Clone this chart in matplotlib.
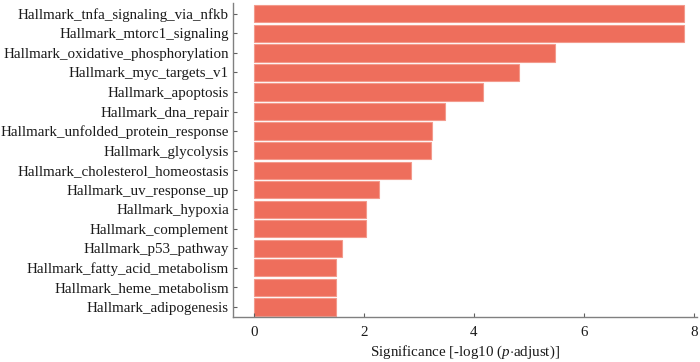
import matplotlib
matplotlib.use("Agg")
import matplotlib.pyplot as plt

categories = [
    "Hallmark_tnfa_signaling_via_nfkb",
    "Hallmark_mtorc1_signaling",
    "Hallmark_oxidative_phosphorylation",
    "Hallmark_myc_targets_v1",
    "Hallmark_apoptosis",
    "Hallmark_dna_repair",
    "Hallmark_unfolded_protein_response",
    "Hallmark_glycolysis",
    "Hallmark_cholesterol_homeostasis",
    "Hallmark_uv_response_up",
    "Hallmark_hypoxia",
    "Hallmark_complement",
    "Hallmark_p53_pathway",
    "Hallmark_fatty_acid_metabolism",
    "Hallmark_heme_metabolism",
    "Hallmark_adipogenesis",
]
values = [7.82, 7.82, 5.48, 4.82, 4.17, 3.47, 3.24, 3.22, 2.85, 2.27,
          2.04, 2.04, 1.60, 1.49, 1.49, 1.49]
xticks = [0, 2, 4, 6, 8]

plt.rcParams['font.family'] = ['Liberation Serif', 'DejaVu Serif']
plt.rcParams['mathtext.fontset'] = 'custom'
plt.rcParams['mathtext.rm'] = 'Liberation Serif'
plt.rcParams['mathtext.it'] = 'Liberation Serif:italic'

fs = 10.8
fig = plt.figure(figsize=(7, 3.62), dpi=100)
ax = fig.add_axes([0.333, 0.124, 0.663, 0.868])

y = list(range(len(categories)))
ax.barh(y, values, height=0.88, color='#EE6E5C', edgecolor='#F39A8C', linewidth=0.8)
ax.set_yticks(y)
ax.set_yticklabels(categories, fontsize=fs, color='#1a1a1a')
ax.set_ylim(15.52, -0.56)
ax.set_xlim(-0.38, 8.06)
ax.set_xticks(xticks)
ax.set_xticklabels([str(t) for t in xticks], fontsize=fs, color='#1a1a1a')
ax.set_xlabel(r"Significance [-log10 ($p$$\cdot$adjust)]", fontsize=fs, color='#1a1a1a', labelpad=3.5)

for s in ['top', 'right']:
    ax.spines[s].set_visible(False)
for s in ['left', 'bottom']:
    ax.spines[s].set_color('#808080')
    ax.spines[s].set_linewidth(1.0)
ax.tick_params(axis='both', direction='in', length=3, width=0.8, color='#606060', pad=3)
ax.tick_params(axis='x', pad=6.5)

fig.savefig("out.png", dpi=100)
